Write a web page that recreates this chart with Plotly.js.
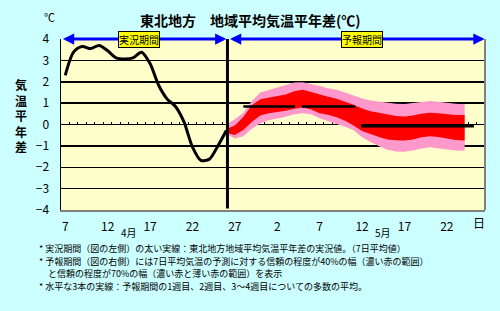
<!DOCTYPE html>
<html>
<head>
<meta charset="utf-8">
<script src="https://cdn.plot.ly/plotly-3.0.1.min.js"></script>
<style>
body { margin: 0; background: #ccffff; }
#chart { width: 500px; height: 311px; }
</style>
</head>
<body>
<div id="chart"></div>
<script>
// day index: 0 = Apr 7
// observed 7-day mean anomaly (Apr 7 - Apr 26)
var obsDays = [0,1,2,3,4,5,6,7,8,9,10,11,12,13,14,15,16,17,18,19];
var obsAnom = [2.3,3.4,3.65,3.55,3.7,3.45,3.12,3.07,3.12,3.38,2.85,1.85,1.2,0.84,0.12,-1.05,-1.68,-1.62,-1.0,-0.28];

// forecast bands (70% = pink, 40% = red)
var fcDays  = [19.2,20,21,22,23,24,25,26,27,28,29,30,31,32,33,34,35,36,37,38,39,40,41,42,43,44,45,46,47.1];
var pinkTop = [0.05,0.25,0.55,1.1,1.5,1.62,1.72,1.85,1.96,1.98,1.9,1.8,1.7,1.62,1.5,1.35,1.22,1.12,1.07,1.02,0.97,0.96,1.0,1.07,1.1,1.07,1.02,0.97,0.95];
var redTop  = [-0.18,-0.05,0.35,0.9,1.18,1.25,1.3,1.4,1.55,1.62,1.52,1.4,1.3,1.2,1.07,0.92,0.75,0.62,0.55,0.47,0.4,0.38,0.42,0.5,0.55,0.53,0.48,0.45,0.45];
var redBot  = [-0.41,-0.49,-0.26,0.12,0.42,0.53,0.58,0.64,0.74,0.8,0.7,0.53,0.46,0.34,0.18,-0.05,-0.3,-0.45,-0.58,-0.7,-0.74,-0.75,-0.7,-0.6,-0.55,-0.58,-0.65,-0.72,-0.75];
var pinkBot = [-0.49,-0.65,-0.55,-0.2,0.06,0.2,0.28,0.36,0.48,0.53,0.48,0.29,0.15,0.02,-0.1,-0.26,-0.6,-0.82,-1.02,-1.18,-1.26,-1.28,-1.22,-1.12,-1.06,-1.1,-1.17,-1.22,-1.23];

// ensemble mean for week 1, week 2, weeks 3-4
var weekStart = [21.0, 27.9, 34.9];
var weekEnd   = [27.1, 34.2, 48.2];
var weekMean  = [0.84, 0.84, -0.06];

var tickDays   = [0,5,10,15,20,25,30,35,40,45];
var tickLabels = ['7','12','17','22','27','2','7','12','17','22'];

var obsEnd = 19.13;   // boundary between observed and forecast period

var font = 'Noto Sans CJK JP';

function band(top, bot, color) {
  return {
    x: fcDays.concat(fcDays.slice().reverse()),
    y: top.concat(bot.slice().reverse()),
    type: 'scatter', mode: 'lines', fill: 'toself',
    fillcolor: color, line: {width: 0, color: color},
    hoverinfo: 'skip', showlegend: false
  };
}

var data = [];
data.push(band(pinkTop, pinkBot, '#ff99cc'));
data.push(band(redTop, redBot, '#ff0000'));

for (var i = 0; i < weekMean.length; i++) {
  data.push({
    x: [weekStart[i], weekEnd[i]],
    y: [weekMean[i], weekMean[i]],
    type: 'scatter', mode: 'lines',
    line: {color: '#000', width: i == 2 ? 3.5 : 2.5},
    showlegend: false
  });
}

data.push({
  x: obsDays, y: obsAnom,
  type: 'scatter', mode: 'lines',
  line: {color: '#000', width: 3, shape: 'spline', smoothing: 0.8},
  showlegend: false
});

// dummy trace so the zero-line tick axis is drawn
data.push({
  x: obsDays, y: obsAnom, xaxis: 'x2',
  type: 'scatter', mode: 'lines', line: {width: 0},
  hoverinfo: 'skip', showlegend: false
});

// pixel -> paper helpers for text placement
function px(p) { return (p - 61) / 424; }
function py(p) { return (209.7 - p) / 170.4; }

var ann = [];
function txt(t, x, y, size, opts) {
  var a = {
    text: t, xref: 'paper', yref: 'paper', x: px(x), y: py(y),
    showarrow: false, font: {family: font, size: size, color: '#000'},
    xanchor: 'center', yanchor: 'middle'
  };
  for (var k in opts) a[k] = opts[k];
  ann.push(a);
}

txt('<b>東北地方　地域平均気温平年差(℃)</b>', 250, 20, 14);
txt('℃', 49, 17, 11);
txt('日', 479, 222, 12);
txt('4月', 129, 232.5, 10, {borderpad: 0});
txt('5月', 383, 232.5, 10, {borderpad: 0});

// vertical y-axis title, one character per line
txt('<b>' + '気温平年差'.split('').join('<br>') + '</b>', 20.5, 116, 12);

// footnotes
var notes = [
  ['* 実況期間（図の左側）の太い実線：東北地方地域平均気温平年差の実況値。（7日平均値）', 38],
  ['* 予報期間（図の右側）には7日平均気温の予測に対する信頼の程度が40%の幅（濃い赤の範囲）', 38],
  ['と信頼の程度が70%の幅（濃い赤と薄い赤の範囲）を表示', 47],
  ['* 水平な3本の実線：予報期間の1週目、2週目、3～4週目についての多数の平均。', 38]
];
notes.forEach(function (n, k) {
  txt(n[0], n[1], 248 + k * 12.7, 9, {xanchor: 'left', borderpad: 0});
});

// period arrows along the top
function arrow(x0, x1) {
  ann.push({
    x: x1, y: 4, ax: x0, ay: 4, xref: 'x', yref: 'y', axref: 'x', ayref: 'y',
    text: '', showarrow: true, arrowside: 'end+start',
    arrowhead: 2, startarrowhead: 2, arrowsize: 0.75, startarrowsize: 0.75,
    arrowwidth: 3, arrowcolor: '#0000ff'
  });
}
arrow(-0.45, 19.0);
arrow(19.25, 49.45);

function label(t, x) {
  ann.push({
    text: t, x: x, y: 4, xref: 'x', yref: 'y', showarrow: false,
    font: {family: font, size: 10, color: '#000'},
    bgcolor: '#ffff00', bordercolor: '#000', borderwidth: 1, borderpad: 0
  });
}
label('実況期間', 8.7);
label('予報期間', 35.05);

var layout = {
  width: 500, height: 311,
  margin: {l: 61, r: 15, t: 39, b: 101},
  paper_bgcolor: '#ccffff',
  plot_bgcolor: '#ffffcc',
  font: {family: font, size: 12, color: '#000'},
  showlegend: false,
  xaxis: {
    range: [-0.5, 49.5], tickvals: tickDays, ticktext: tickLabels,
    showgrid: false, zeroline: false, ticks: '',
    showline: true, linecolor: '#808080', linewidth: 2,
    ticklabelstandoff: 5, tickfont: {size: 12}
  },
  xaxis2: {
    overlaying: 'x', anchor: 'free', position: 0.5, range: [-0.5, 49.5],
    tick0: 0.5, dtick: 1, ticks: 'inside', ticklen: 3, tickwidth: 1, tickcolor: '#000',
    showticklabels: false, showgrid: false, zeroline: false, showline: false,
    layer: 'below traces'
  },
  yaxis: {
    range: [-4, 4], dtick: 1, showgrid: true, gridcolor: '#000', gridwidth: 1.5,
    zeroline: false, showline: true, linecolor: '#000', linewidth: 1.5,
    ticks: '', ticklabelstandoff: 8, tickfont: {size: 12}
  },
  shapes: [
    {type: 'line', xref: 'x', yref: 'y', x0: obsEnd, x1: obsEnd, y0: -3.93, y1: 4,
     line: {color: '#000', width: 3}},
    {type: 'line', xref: 'paper', yref: 'paper', x0: 1, x1: 1, y0: 0, y1: 1,
     line: {color: '#808080', width: 2}}
  ],
  annotations: ann
};

Plotly.newPlot('chart', data, layout, {staticPlot: true, displayModeBar: false});
</script>
</body>
</html>
